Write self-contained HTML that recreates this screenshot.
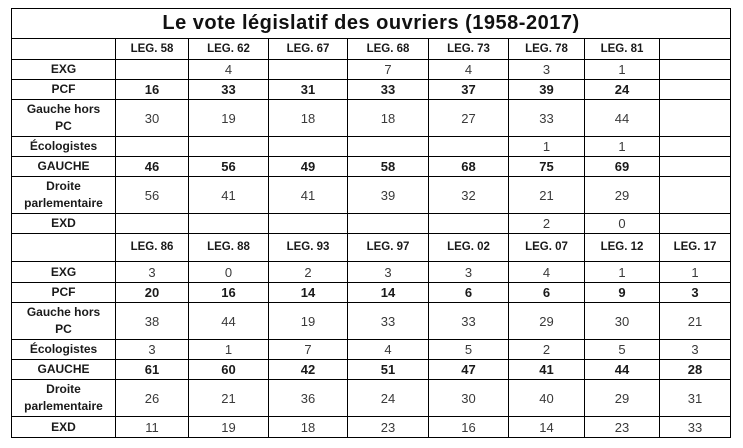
<!DOCTYPE html>
<html><head><meta charset="utf-8">
<style>
html,body{margin:0;padding:0;background:#fff;}
body{width:743px;height:448px;position:relative;overflow:hidden;font-family:"Liberation Sans",Arial,sans-serif;}
.g{position:absolute;left:11px;top:8px;width:720px;height:430px;background:#000;display:grid;
grid-template-columns:103px 72px 79px 78px 80px 79px 75px 74px 70px;
grid-template-rows:29px 20px 19px 19px 36px 19px 19px 36px 19px 27px 20px 19px 36px 19px 19px 36px 20px;
gap:1px;padding:1px;box-sizing:border-box;}
.g>div{background:#fff;display:flex;align-items:center;justify-content:center;text-align:center;font-size:13px;line-height:17px;color:#3a3a3a;}
.g>div.l{font-weight:bold;color:#1a1a1a;font-size:12px;}
.g>div.t{grid-column:1 / span 9;font-size:20px;font-weight:bold;color:#111;letter-spacing:0.5px;}
.g>div.b{font-weight:bold;color:#1a1a1a;}
.g>div.h{font-weight:bold;color:#1a1a1a;font-size:11.5px;}
</style></head><body>
<div class="g">
<div class="t">Le vote législatif des ouvriers (1958-2017)</div>

<div></div><div class="h">LEG. 58</div><div class="h">LEG. 62</div><div class="h">LEG. 67</div><div class="h">LEG. 68</div><div class="h">LEG. 73</div><div class="h">LEG. 78</div><div class="h">LEG. 81</div><div></div>

<div class="l">EXG</div><div></div><div>4</div><div></div><div>7</div><div>4</div><div>3</div><div>1</div><div></div>

<div class="l">PCF</div><div class="b">16</div><div class="b">33</div><div class="b">31</div><div class="b">33</div><div class="b">37</div><div class="b">39</div><div class="b">24</div><div></div>

<div class="l">Gauche hors<br>PC</div><div>30</div><div>19</div><div>18</div><div>18</div><div>27</div><div>33</div><div>44</div><div></div>

<div class="l">Écologistes</div><div></div><div></div><div></div><div></div><div></div><div>1</div><div>1</div><div></div>

<div class="l">GAUCHE</div><div class="b">46</div><div class="b">56</div><div class="b">49</div><div class="b">58</div><div class="b">68</div><div class="b">75</div><div class="b">69</div><div></div>

<div class="l">Droite<br>parlementaire</div><div>56</div><div>41</div><div>41</div><div>39</div><div>32</div><div>21</div><div>29</div><div></div>

<div class="l">EXD</div><div></div><div></div><div></div><div></div><div></div><div>2</div><div>0</div><div></div>

<div></div><div class="h">LEG. 86</div><div class="h">LEG. 88</div><div class="h">LEG. 93</div><div class="h">LEG. 97</div><div class="h">LEG. 02</div><div class="h">LEG. 07</div><div class="h">LEG. 12</div><div class="h">LEG. 17</div>

<div class="l">EXG</div><div>3</div><div>0</div><div>2</div><div>3</div><div>3</div><div>4</div><div>1</div><div>1</div>

<div class="l">PCF</div><div class="b">20</div><div class="b">16</div><div class="b">14</div><div class="b">14</div><div class="b">6</div><div class="b">6</div><div class="b">9</div><div class="b">3</div>

<div class="l">Gauche hors<br>PC</div><div>38</div><div>44</div><div>19</div><div>33</div><div>33</div><div>29</div><div>30</div><div>21</div>

<div class="l">Écologistes</div><div>3</div><div>1</div><div>7</div><div>4</div><div>5</div><div>2</div><div>5</div><div>3</div>

<div class="l">GAUCHE</div><div class="b">61</div><div class="b">60</div><div class="b">42</div><div class="b">51</div><div class="b">47</div><div class="b">41</div><div class="b">44</div><div class="b">28</div>

<div class="l">Droite<br>parlementaire</div><div>26</div><div>21</div><div>36</div><div>24</div><div>30</div><div>40</div><div>29</div><div>31</div>

<div class="l">EXD</div><div>11</div><div>19</div><div>18</div><div>23</div><div>16</div><div>14</div><div>23</div><div>33</div>
</div>
</body></html>
